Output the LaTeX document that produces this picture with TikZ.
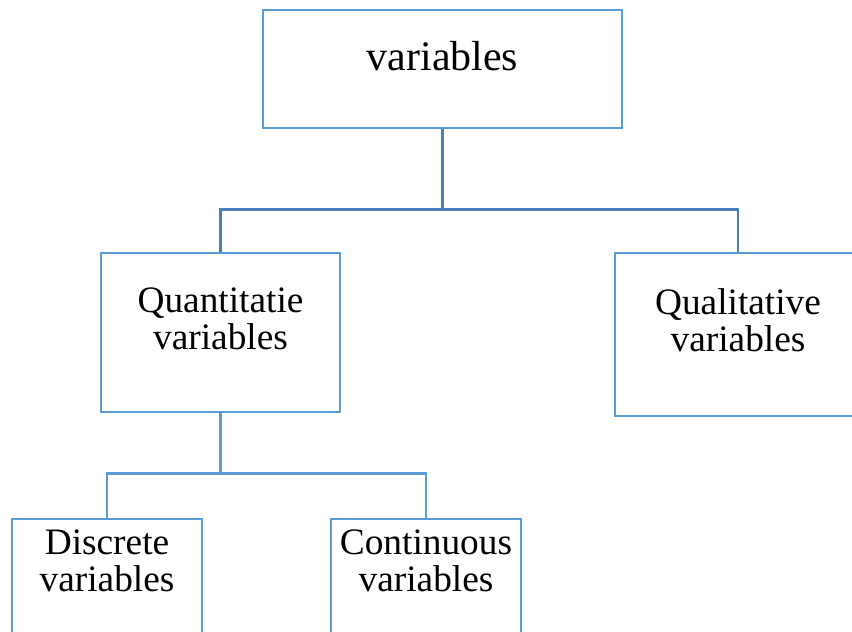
\documentclass[tikz,border=0pt]{standalone}
\usepackage{fontspec}
\setmainfont{Liberation Serif}
\usetikzlibrary{calc}
\definecolor{boxblue}{RGB}{91,155,213}
\definecolor{linkblue}{RGB}{74,126,187}

\begin{document}
\begin{tikzpicture}[x=0.75pt,y=-0.75pt,
   box/.style={rectangle,draw=boxblue,line width=2pt,inner sep=0pt},
   lbl/.style={inner sep=0pt,align=center,font=\fontsize{28}{27.75}\selectfont},
   link/.style={draw=linkblue,line width=2pt},
   sublink/.style={draw=boxblue,line width=2pt}]
   \useasboundingbox (0,0) rectangle (852,631);
   \clip (0,0) rectangle (852,631);

   \node[box,minimum width=359*0.75pt,minimum height=118*0.75pt] (top)   at (442.5,69)    {};
   \node[box,minimum width=239*0.75pt,minimum height=159*0.75pt] (quant) at (220.5,332.5) {};
   \node[box,minimum width=246*0.75pt,minimum height=163*0.75pt] (qual)  at (738,334.5)   {};
   \node[box,minimum width=190*0.75pt,minimum height=160*0.75pt] (disc)  at (107,599)     {};
   \node[box,minimum width=190*0.75pt,minimum height=160*0.75pt] (cont)  at (426,599)     {};

   \node[lbl,font=\fontsize{31.5}{32}\selectfont] (top-txt) at ($(top)+(0,-13.3)$) {variables};
   \node[lbl] (quant-txt) at ($(quant)+(0,-13.8)$) {Quantitatie\\variables};
   \node[lbl] (qual-txt)  at ($(qual)+(0,-13.8)$)  {Qualitative\\variables};
   \node[lbl] (disc-txt)  at ($(disc)+(0,-38.3)$)  {Discrete\\variables};
   \node[lbl] (cont-txt)  at ($(cont)+(0,-38.3)$)  {Continuous\\variables};

   \coordinate (topjoin)   at ($(top.south)+(0,80)$);
   \coordinate (quantjoin) at ($(quant.south)+(0,60)$);

   \path[link]    (top.south) -- (topjoin)
                  (quant.north) |- (topjoin) -| (qual.north);
   \path[sublink] (quant.south) -- (quantjoin)
                  (disc.north) |- (quantjoin) -| (cont.north);
\end{tikzpicture}
\end{document}
